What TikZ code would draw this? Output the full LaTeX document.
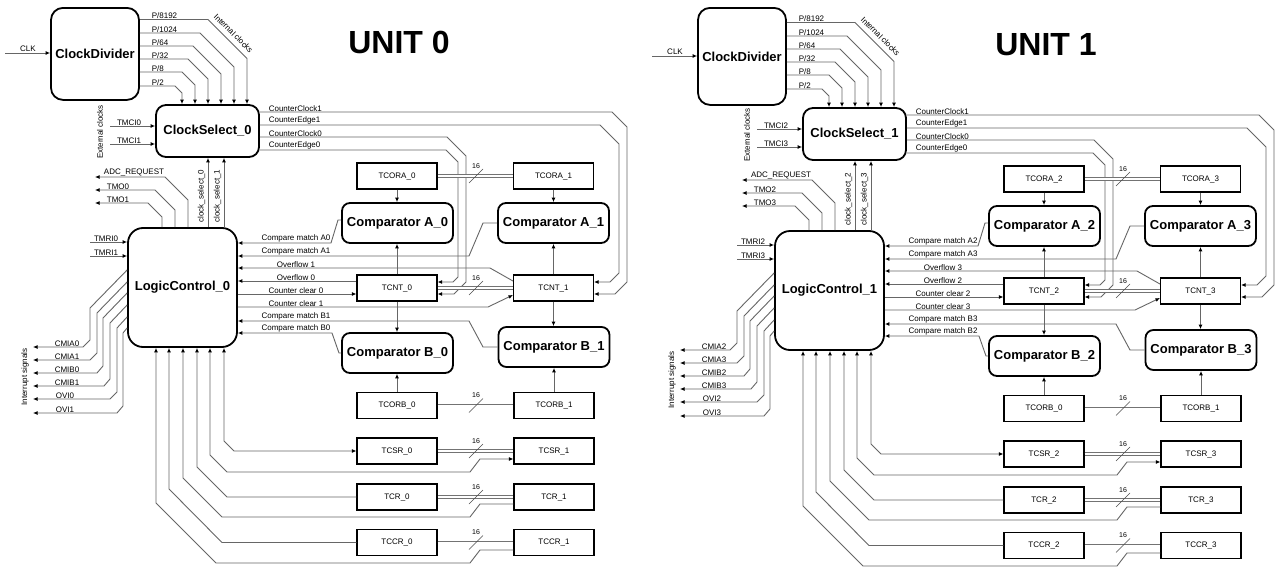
\documentclass[tikz,border=0pt]{standalone}
\usepackage{fontspec}
\setmainfont{Liberation Sans}
\usetikzlibrary{arrows.meta}
\tikzset{
  wire/.style={draw=black!60, line width=0.9pt},
  tipe/.style={-{Latex[length=4.5pt,width=4pt,color=black]}},
  tipb/.style={{Latex[length=4.5pt,width=4pt,color=black]}-},
  tipbb/.style={{Latex[length=4.5pt,width=4pt,color=black]}-{Latex[length=4.5pt,width=4pt,color=black]}},
  bigbox/.style={draw=black, line width=1.8pt, rounded corners=10pt, inner sep=0pt, fill=white, font=\fontsize{13}{15}\selectfont\bfseries},
  compbox/.style={bigbox, rounded corners=8pt, minimum width=111pt, minimum height=40pt},
  regbox/.style={draw=black, line width=1.1pt, inner sep=0pt, minimum width=80pt, minimum height=26pt, font=\fontsize{8}{9}\selectfont},
  lbl/.style={font=\fontsize{8}{9}\selectfont, inner sep=0.6pt},
  buslbl/.style={font=\fontsize{7}{8}\selectfont, inner sep=0.5pt},
  bus/.style={draw=black!55, line width=0.7pt, double=white, double distance=2pt},
  slash/.style={draw=black!70, line width=0.6pt},
}
\newcommand\tmrunit[7]{%
  % ---------- boxes
  \node[bigbox, rounded corners=12pt, minimum width=88pt, minimum height=#6pt, anchor=north] (CD) at (95,#7) {ClockDivider};
  \node[bigbox, minimum width=103pt, minimum height=52pt] (CS) at (207.5,131) {ClockSelect\_#1};
  \node[bigbox, rounded corners=15pt, minimum width=109pt, minimum height=119pt] (LC) at (182.5,287.5) {LogicControl\_#1};
  \node[compbox] (CA0) at (397.5,223) {Comparator A\_#2};
  \node[compbox] (CA1) at (553.5,223) {Comparator A\_#3};
  \node[compbox] (CB0) at (397.5,353) {Comparator B\_#2};
  \node[compbox] (CB1) at (554,347) {Comparator B\_#3};
  \node[regbox] (ORA0) at (397,176) {TCORA\_#2};
  \node[regbox] (ORA1) at (553.5,176) {TCORA\_#3};
  \node[regbox] (CNT0) at (397,288) {TCNT\_#2};
  \node[regbox] (CNT1) at (553.5,288) {TCNT\_#3};
  \node[regbox] (ORB0) at (397,405.5) {TCORB\_#4};
  \node[regbox] (ORB1) at (554,405.5) {TCORB\_#5};
  \node[regbox] (CSR0) at (397,451) {TCSR\_#2};
  \node[regbox] (CSR1) at (554,451) {TCSR\_#3};
  \node[regbox] (CR0) at (397,497) {TCR\_#2};
  \node[regbox] (CR1) at (554,497) {TCR\_#3};
  \node[regbox] (CCR0) at (397,542.5) {TCCR\_#2};
  \node[regbox] (CCR1) at (554,542.5) {TCCR\_#3};
  \node[font=\fontsize{32}{36}\selectfont\bfseries, inner sep=0pt] (title) at (399,42) {UNIT #1};
  % ---------- clock divider
  \coordinate (clkin) at (5,53);
  \draw[wire,tipe] (clkin) -- (CD.west|-clkin);
  \node[lbl,anchor=south] (lclk) at (28,52) {CLK};
  \draw[wire,tipe] (CD.east|-0,19.5) -- (208,19.5) -- (247,58.5) -- (CS.north-|247,0);
  \draw[wire,tipe] (CD.east|-0,33) -- (200,33) -- (234,67) -- (CS.north-|234,0);
  \draw[wire,tipe] (CD.east|-0,46) -- (193,46) -- (221,74) -- (CS.north-|221,0);
  \draw[wire,tipe] (CD.east|-0,59) -- (188,59) -- (208,79) -- (CS.north-|208,0);
  \draw[wire,tipe] (CD.east|-0,72) -- (182,72) -- (195,85) -- (CS.north-|195,0);
  \draw[wire,tipe] (CD.east|-0,86) -- (175,86) -- (182,93) -- (CS.north-|182,0);
  \node[lbl,anchor=south west] (lp1) at (151,19.5) {P/8192};
  \node[lbl,anchor=south west] (lp2) at (151,33) {P/1024};
  \node[lbl,anchor=south west] (lp3) at (151,46) {P/64};
  \node[lbl,anchor=south west] (lp4) at (151,59) {P/32};
  \node[lbl,anchor=south west] (lp5) at (151,72) {P/8};
  \node[lbl,anchor=south west] (lp6) at (151,86) {P/2};
  \node[lbl,rotate=-45] (lic) at (233.5,33.5) {Internal clocks};
  % ---------- clock select inputs
  \draw[wire,tipe] (110,126) -- (CS.west|-0,126);
  \draw[wire,tipe] (110,144) -- (CS.west|-0,144);
  \node[lbl,anchor=south] (ltm0) at (129,126) {TMCI#2};
  \node[lbl,anchor=south] (ltm1) at (129,144) {TMCI#3};
  \node[lbl,rotate=90] (lext) at (100,132) {External clocks};
  % ---------- clock select outputs
  \draw[wire,tipe] (CS.east|-0,150) -- (446,150) -- (458,162) -- (458,277) -- (453,282) -- (CNT0.east|-0,282);
  \draw[wire,tipe] (CS.east|-0,137) -- (447,137) -- (466,156) -- (466,282) -- (454,294) -- (CNT0.east|-0,294);
  \draw[wire,tipe] (CS.east|-0,112) -- (612,112) -- (627,127) -- (627,282) -- (615,294) -- (CNT1.east|-0,294);
  \draw[wire,tipe] (CS.east|-0,125) -- (600,125) -- (619,144) -- (619,273) -- (610,282) -- (CNT1.east|-0,282);
  \node[lbl,anchor=south west] (lcc1) at (268,112) {CounterClock1};
  \node[lbl,anchor=south west] (lce1) at (268,125) {CounterEdge1};
  \node[lbl,anchor=south west] (lcc0) at (268,137) {CounterClock0};
  \node[lbl,anchor=south west] (lce0) at (268,150) {CounterEdge0};
  % ---------- clock select control
  \draw[wire,tipe] (LC.north-|208,0) -- (CS.south-|208,0);
  \draw[wire,tipe] (LC.north-|224,0) -- (CS.south-|224,0);
  \node[lbl,rotate=90] (lcs0) at (201.5,196) {clock\_select\_#2};
  \node[lbl,rotate=90] (lcs1) at (217.5,196) {clock\_select\_#3};
  % ---------- logic control top outputs
  \draw[wire,tipe] (LC.north-|188,0) -- (188,200) -- (165,177) -- (95,177);
  \draw[wire,tipe] (LC.north-|175,0) -- (175,210) -- (155,190) -- (95,190);
  \draw[wire,tipe] (LC.north-|162,0) -- (162,217) -- (148,203) -- (95,203);
  \node[lbl,anchor=south] (ladc) at (134,177) {ADC\_REQUEST};
  \node[lbl,anchor=south] (ltmo0) at (118,190) {TMO#2};
  \node[lbl,anchor=south] (ltmo1) at (118,203) {TMO#3};
  % ---------- logic control left inputs
  \draw[wire,tipe] (90,242) -- (LC.west|-0,242);
  \draw[wire,tipe] (90,256) -- (LC.west|-0,256);
  \node[lbl,anchor=south] (ltr0) at (106,242) {TMRI#2};
  \node[lbl,anchor=south] (ltr1) at (106,256) {TMRI#3};
  % ---------- interrupt outputs
  \draw[wire,tipe] (LC.west|-0,270) -- (90,308) -- (90,340) -- (83,347) -- (33,347);
  \draw[wire,tipe] (LC.west|-0,282) -- (97,313) -- (97,353) -- (90,360) -- (33,360);
  \draw[wire,tipe] (LC.west|-0,293) -- (103,318) -- (103,366) -- (97,373) -- (33,373);
  \draw[wire,tipe] (LC.west|-0,305) -- (110,323) -- (110,379) -- (104,386) -- (33,386);
  \draw[wire,tipe] (LC.west|-0,317) -- (117,328) -- (117,392) -- (110,399) -- (33,399);
  \draw[wire,tipe] (LC.west|-0,328) -- (123,333) -- (123,406) -- (117,413) -- (33,413);
  \node[lbl,anchor=south] (lia0) at (67,347) {CMIA#2};
  \node[lbl,anchor=south] (lia1) at (67,360) {CMIA#3};
  \node[lbl,anchor=south] (lib0) at (67,373) {CMIB#2};
  \node[lbl,anchor=south] (lib1) at (67,386) {CMIB#3};
  \node[lbl,anchor=south] (lov0) at (65,399) {OVI#2};
  \node[lbl,anchor=south] (lov1) at (65,413) {OVI#3};
  \node[lbl,rotate=90] (lint) at (25,377) {Interrupt signals};
  % ---------- logic control right side
  \draw[wire,tipe] (CA0.west|-0,220) -- (338,220) -- (331,243) -- (LC.east|-0,243);
  \draw[wire,tipe] (CA1.west|-0,223) -- (483,223) -- (469,256) -- (LC.east|-0,256);
  \draw[wire,tipe] (CNT1.west|-0,281) -- (490,268) -- (LC.east|-0,268);
  \draw[wire,tipe] (CNT0.west|-0,281) -- (LC.east|-0,281);
  \draw[wire,tipe] (LC.east|-0,294) -- (CNT0.west|-0,294);
  \draw[wire,tipe] (LC.east|-0,307) -- (488,307) -- (CNT1.west|-0,295);
  \draw[wire,tipe] (CB1.west|-0,347) -- (483,347) -- (469,321) -- (LC.east|-0,321);
  \draw[wire,tipe] (CB0.west|-0,353) -- (339,353) -- (332,333) -- (LC.east|-0,333);
  \node[lbl,anchor=south] (lma0) at (296,243) {Compare match A#2};
  \node[lbl,anchor=south] (lma1) at (296,256) {Compare match A#3};
  \node[lbl,anchor=south] (lof1) at (296,268) {Overflow #3};
  \node[lbl,anchor=south] (lof0) at (296,281) {Overflow #2};
  \node[lbl,anchor=south] (lcl0) at (296,294) {Counter clear #2};
  \node[lbl,anchor=south] (lcl1) at (296,307) {Counter clear #3};
  \node[lbl,anchor=south] (lmb1) at (296,321) {Compare match B#3};
  \node[lbl,anchor=south] (lmb0) at (296,333) {Compare match B#2};
  % ---------- comparator feeds
  \draw[wire,tipe] (ORA0.south) -- (CA0.north-|ORA0.south);
  \draw[wire,tipe] (ORA1.south) -- (CA1.north-|ORA1.south);
  \draw[wire,tipe] (CNT0.north) -- (CA0.south-|CNT0.north);
  \draw[wire,tipe] (CNT1.north) -- (CA1.south-|CNT1.north);
  \draw[wire,tipe] (CNT0.south) -- (CB0.north-|CNT0.south);
  \draw[wire,tipe] (CNT1.south) -- (CB1.north-|CNT1.south);
  \draw[wire,tipe] (ORB0.north) -- (CB0.south-|ORB0.north);
  \draw[wire,tipe] (ORB1.north) -- (CB1.south-|ORB1.north);
  % ---------- buses
  \foreach \a/\b in {ORA0/ORA1,CNT0/CNT1,ORB0/ORB1,CSR0/CSR1,CR0/CR1,CCR0/CCR1}{
    \draw[bus] (\a.east) -- (\b.west|-\a.east);
    \draw[slash] ([shift={(-7,7)}]476,0|-\a.east) -- ([shift={(7,-7)}]476,0|-\a.east);
    \node[buslbl] (n16\a) at ([shift={(0,-10)}]476,0|-\a.east) {16};
  }
  % ---------- bottom connections
  \draw[wire,tipbb] (LC.south-|224,0) -- (224,441) -- (234,451) -- (CSR0.west);
  \draw[wire,tipbb] (LC.south-|210,0) -- (210,455) -- (227,472) -- (470,472) -- (480,459) -- (CSR1.west|-0,459);
  \draw[wire,tipb] (LC.south-|197,0) -- (197,467) -- (227,497) -- (CR0.west);
  \draw[wire,tipb] (LC.south-|183,0) -- (183,478) -- (222,517) -- (470,517) -- (480,504) -- (CR1.west|-0,504);
  \draw[wire,tipb] (LC.south-|169,0) -- (169,489) -- (222,542.5) -- (CCR0.west);
  \draw[wire,tipb] (LC.south-|156,0) -- (156,503) -- (216,563) -- (470,563) -- (480,550) -- (CCR1.west|-0,550);
}
\begin{document}
\begin{tikzpicture}[x=1pt,y=-1pt]
  \fill[white] (0,0) rectangle (1286,573);
  \useasboundingbox (0,0) rectangle (1286,573);
  \begin{scope}[name prefix=u0-]
    \tmrunit{0}{0}{1}{0}{1}{92}{7}
  \end{scope}
  \begin{scope}[shift={(647,3)}, name prefix=u1-]
    \tmrunit{1}{2}{3}{0}{1}{97}{4}
  \end{scope}
\end{tikzpicture}
\end{document}
